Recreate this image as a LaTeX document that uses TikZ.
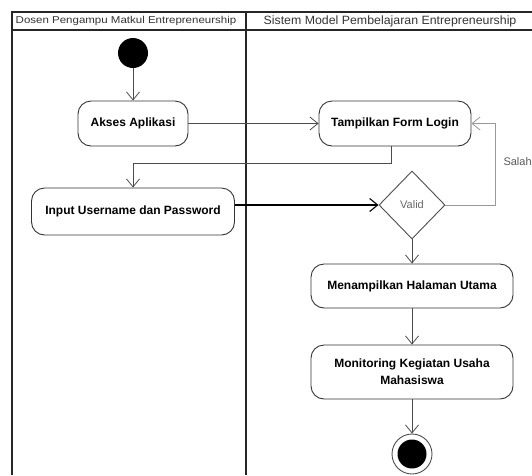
\documentclass[tikz,border=0pt]{standalone}
\usepackage{fontspec}
\setmainfont{Liberation Sans}
\usetikzlibrary{positioning, arrows.meta, shapes.geometric, calc}

\begin{document}
\begin{tikzpicture}[x=1pt, y=-1pt,
    lane/.style={line width=1.8pt, draw=black!85},
    activity/.style={draw=black!80, line width=0.9pt, rounded corners=13pt, align=center, inner sep=2pt, font=\fontsize{12}{17}\selectfont\bfseries},
    flow/.style={draw=black!70, line width=0.8pt, -{Straight Barb[length=8pt,width=13pt]}},
    lanelabel/.style={inner sep=0pt, text=black!80}]
    \useasboundingbox (0,0) rectangle (532,475);
    % swimlanes
    \draw[lane] (12,475) -- (12,12) -- (532,12);
    \draw[lane] (12,30) -- (532,30);
    \draw[lane] (246,12) -- (246,475);
    \node[lanelabel, font=\fontsize{10}{12}\selectfont] (dosen) at (126,21) {\scalebox{1.15}[1]{Dosen Pengampu Matkul Entrepreneurship}};
    \node[lanelabel, font=\fontsize{12}{14}\selectfont] (sistem) at (390,21) {\scalebox{1.03}[1]{Sistem Model Pembelajaran Entrepreneurship}};
    % activities
    \node[circle, fill=black, minimum size=30pt, inner sep=0pt] (start) at (133,53) {};
    \node[activity, minimum width=110pt, minimum height=45pt] (akses) at (133,123.5) {Akses Aplikasi};
    \node[activity, minimum width=152pt, minimum height=45pt] (tampil) at (395,123.5) {Tampilkan Form Login};
    \node[activity, minimum width=203pt, minimum height=47pt] (input) at (133,211.5) {Input Username dan Password};
    \node[diamond, draw=black!70, line width=0.9pt, minimum width=66pt, minimum height=68pt, inner sep=0pt, text=black!60, font=\fontsize{11}{13}\selectfont] (valid) at (412,205) {Valid};
    \node[activity, minimum width=202pt, minimum height=44pt] (menu) at (412,286) {Menampilkan Halaman Utama};
    \node[activity, minimum width=202pt, minimum height=54pt] (monitor) at (412,372) {Monitoring Kegiatan Usaha\\Mahasiswa};
    \node[circle, draw=black!70, line width=0.9pt, minimum size=40pt, inner sep=0pt,
          path picture={\fill[black] (path picture bounding box.center) circle (14.5pt);}] (stop) at (412,454) {};
    \coordinate (backturn) at (133,163);
    \coordinate (salahturn) at (495,123.5);
    % flows
    \draw[flow] (start) -- (akses);
    \draw[flow] (akses) -- (tampil);
    \draw[flow] ([xshift=-4pt]tampil.south) |- (backturn) -- (input.north);
    \draw[flow, draw=black, line width=1.1pt] (input.east |- valid.west) -- (valid.west);
    \draw[flow, draw=black!40] (valid.east) -| (salahturn) -- (tampil.east);
    \node[anchor=west, text=black!65, font=\fontsize{11}{13}\selectfont] (salah) at (500,162) {Salah};
    \draw[flow] (valid) -- (menu);
    \draw[flow] (menu) -- (monitor);
    \draw[flow] (monitor) -- (stop);
\end{tikzpicture}
\end{document}
